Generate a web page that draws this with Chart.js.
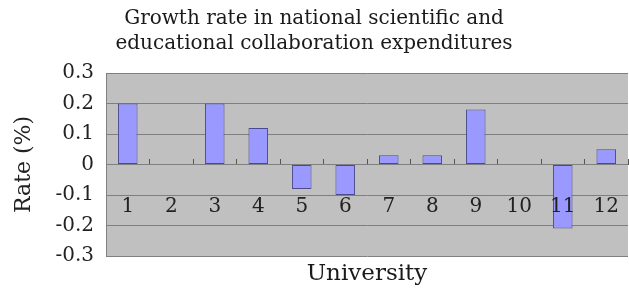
<!DOCTYPE html>
<html>
<head>
<meta charset="utf-8">
<script src="https://cdn.jsdelivr.net/npm/chart.js@4"></script>
<style>
  body { margin: 0; background: #fff; }
  #chart { display: block; }
</style>
</head>
<body>
<canvas id="chart" width="629" height="288"></canvas>
<script>
const universities = ['1', '2', '3', '4', '5', '6', '7', '8', '9', '10', '11', '12'];
const growthRate = [0.2, 0, 0.2, 0.12, -0.08, -0.1, 0.03, 0.03, 0.18, 0, -0.21, 0.05];
const chartTitle = ['Growth rate in national scientific and', 'educational collaboration expenditures'];

// grey plot area like the old spreadsheet chart
const plotBg = {
    id: 'plotBg',
    beforeDraw(chart) {
        const a = chart.chartArea;
        const ctx = chart.ctx;
        ctx.save();
        ctx.fillStyle = '#c0c0c0';
        ctx.fillRect(a.left, a.top, a.right - a.left, a.bottom - a.top);
        ctx.restore();
    }
};

const ctx = document.getElementById('chart').getContext('2d');
new Chart(ctx, {
    type: 'bar',
    data: {
        labels: universities,
        datasets: [{
            data: growthRate,
            backgroundColor: '#9999ff',
            borderColor: '#4b4b8c',
            borderWidth: 1,
            borderSkipped: false,
            categoryPercentage: 1,
            barPercentage: 0.45,
            xAxisID: 'x'
        }]
    },
    options: {
        responsive: false,
        animation: false,
        layout: { padding: { left: 0, right: 1, top: 0, bottom: 0 } },
        plugins: {
            legend: { display: false },
            tooltip: { enabled: false },
            title: {
                display: true,
                text: chartTitle,
                color: '#1a1a1a',
                font: { family: 'DejaVu Serif', size: 20, weight: 'normal', lineHeight: 1.25 },
                padding: { top: 6, bottom: 17 }
            }
        },
        scales: {
            x: {
                type: 'category',
                position: { y: 0 },
                offset: true,
                border: { display: false },
                grid: {
                    drawOnChartArea: false,
                    offset: true,
                    tickLength: -6,
                    color: '#555'
                },
                ticks: {
                    z: 1,
                    color: '#222',
                    padding: 36,
                    font: { family: 'DejaVu Serif', size: 20 }
                },
                // labels sit inside the plot, so they need no side room
                afterFit(scale) {
                    scale.paddingLeft = 0;
                    scale.paddingRight = 0;
                }
            },
            xb: {
                type: 'category',
                position: 'bottom',
                labels: universities,
                grid: { display: false, drawTicks: false },
                border: { display: false },
                ticks: { display: false },
                title: {
                    display: true,
                    text: 'University',
                    color: '#1a1a1a',
                    font: { family: 'DejaVu Serif', size: 23 },
                    padding: { top: 0, bottom: 0 }
                },
                afterFit(scale) { scale.height = 32; }
            },
            y: {
                min: -0.3,
                max: 0.3,
                border: { display: true, color: '#808080' },
                grid: { color: '#7f7f7f', drawTicks: false },
                ticks: {
                    stepSize: 0.1,
                    padding: 12,
                    color: '#222',
                    font: { family: 'DejaVu Serif', size: 20 },
                    callback: v => {
                        const r = Math.round(v * 10) / 10;
                        return r === 0 ? '0' : r.toFixed(1);
                    }
                },
                title: {
                    display: true,
                    text: 'Rate (%)',
                    color: '#222',
                    font: { family: 'DejaVu Serif', size: 22 },
                    padding: { top: 11, bottom: 0 }
                },
                afterFit(scale) { scale.width = 106; }
            }
        }
    },
    plugins: [plotBg]
});
</script>
</body>
</html>
